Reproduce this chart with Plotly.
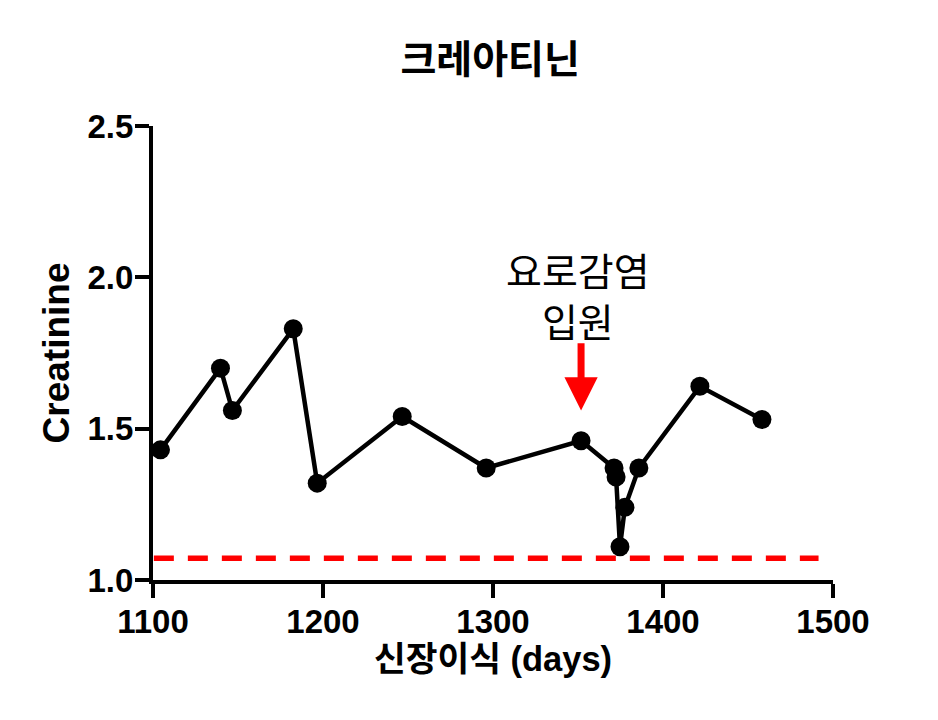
import plotly.graph_objects as go

days = [1104.4, 1139.7, 1146.7, 1182.5, 1196.6, 1246.6, 1296.0, 1351.8,
        1371.2, 1372.4, 1374.7, 1377.6, 1385.8, 1421.7, 1458.2]
creatinine = [1.43, 1.70, 1.56, 1.83, 1.32, 1.54, 1.37, 1.46,
              1.37, 1.34, 1.11, 1.24, 1.37, 1.64, 1.53]
ref_x = [1100.5, 1491.5]
ref_y = [1.072, 1.072]
event_day = 1351.8
event_text = "요로감염<br>입원"

FONT = "Liberation Sans, Arial, Noto Sans CJK KR, sans-serif"
KFONT = "Noto Sans CJK KR, sans-serif"

fig = go.Figure()
fig.add_trace(go.Scatter(x=ref_x, y=ref_y, mode="lines",
                         line=dict(color="#ff0000", width=5.5, dash="20px,14px"),
                         showlegend=False, hoverinfo="skip"))
fig.add_trace(go.Scatter(x=days, y=creatinine, mode="lines+markers",
                         line=dict(color="black", width=4.5),
                         marker=dict(color="black", size=19),
                         showlegend=False))

fig.add_annotation(x=event_day, y=1.56, ax=event_day, ay=1.787, axref="x", ayref="y",
                   xref="x", yref="y", text="", showarrow=True,
                   arrowhead=2, arrowsize=0.95, arrowwidth=7, arrowcolor="#ff0000")
fig.add_annotation(x=1350.2, y=1.942, xref="x", yref="y", text=event_text,
                   showarrow=False, font=dict(family=KFONT, size=39, color="black"))

fig.update_layout(
    width=938, height=720,
    margin=dict(l=145, r=112.5, t=118.4, b=148, autoexpand=False),
    paper_bgcolor="white", plot_bgcolor="white",
    title=dict(text="<b>크레아티닌</b>", x=0.514, xanchor="center", y=0.929, yanchor="middle",
               font=dict(family=FONT, size=39, color="black")),
    font=dict(family=FONT, color="black"),
)
fig.update_xaxes(range=[1100, 1500], tickvals=[1100, 1200, 1300, 1400, 1500],
                 ticktext=["<b>1100</b>", "<b>1200</b>", "<b>1300</b>", "<b>1400</b>", "<b>1500</b>"],
                 automargin=False, ticklabelstandoff=-5,
                 showgrid=False, zeroline=False, showline=True, linecolor="black", linewidth=4,
                 ticks="outside", ticklen=14, tickwidth=4, tickcolor="black",
                 tickfont=dict(family=FONT, size=33, color="black"),
                 title=dict(text="<b>신장이식 (days)</b>", font=dict(family=FONT, size=34.5, color="black"),
                            standoff=8))
fig.update_yaxes(range=[1.0, 2.5], tickvals=[1.0, 1.5, 2.0, 2.5],
                 ticktext=["<b>1.0</b>", "<b>1.5</b>", "<b>2.0</b>", "<b>2.5</b>"],
                 automargin=False, ticklabelstandoff=-5,
                 showgrid=False, zeroline=False, showline=True, linecolor="black", linewidth=4,
                 ticks="outside", ticklen=14, tickwidth=4, tickcolor="black",
                 tickfont=dict(family=FONT, size=33, color="black"),
                 title=dict(text="<b>Creatinine</b>", font=dict(family=FONT, size=37, color="black"),
                            standoff=8))

fig.write_html("out.html")
